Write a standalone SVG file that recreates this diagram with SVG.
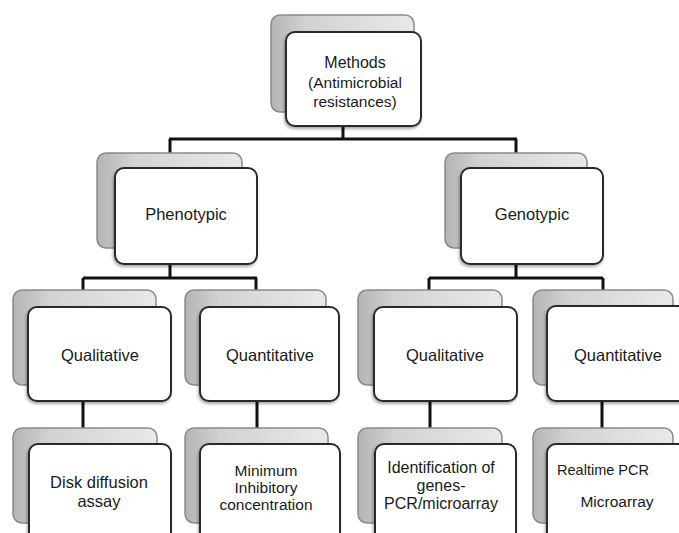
<svg xmlns="http://www.w3.org/2000/svg" width="679" height="533" viewBox="0 0 679 533">
<defs>
<linearGradient id="g" x1="0" y1="0" x2="1" y2="0">
<stop offset="0" stop-color="#b4b4b4"/>
<stop offset="0.25" stop-color="#d2d2d2"/>
<stop offset="1" stop-color="#e9e9e9"/>
</linearGradient>
<filter id="sh" x="-10%" y="-10%" width="125%" height="125%">
<feGaussianBlur in="SourceAlpha" stdDeviation="1.5"/>
<feOffset dx="-1" dy="2"/>
<feComponentTransfer><feFuncA type="linear" slope="0.35"/></feComponentTransfer>
<feMerge><feMergeNode/><feMergeNode in="SourceGraphic"/></feMerge>
</filter>
</defs>
<style>
.back{fill:url(#g);stroke:#8a8a8a;stroke-width:1.5}
.front{fill:#fff;stroke:#2a2a2a;stroke-width:2;filter:url(#sh)}
.t{font-family:"Liberation Sans",Arial,sans-serif;fill:#1a1a1a;text-anchor:middle}
.c{fill:none;stroke:#111;stroke-width:3}
</style>
<rect width="679" height="533" fill="#fff"/>
<g id="connectors">
<path class="c" d="M343 126V139M169 139H517M170 139V153M516 139V153"/>
<path class="c" d="M170 264V278M83 278H257M83 278V290M256 278V290"/>
<path class="c" d="M516 264V278M429 278H603M429 278V290M603 278V290"/>
<path class="c" d="M83 401V428M257 401V428M430 401V428M602 401V428"/>
</g>
<g id="methods">
<rect class="back" x="271" y="15" width="143" height="97" rx="9"/>
<rect class="front" x="286" y="32" width="135" height="94" rx="9"/>
<text class="t" font-size="16" x="355" y="68">Methods</text>
<text class="t" font-size="15.5" x="355" y="88">(Antimicrobial</text>
<text class="t" font-size="15.5" x="355" y="107">resistances)</text>
</g>
<g id="phenotypic">
<rect class="back" x="97" y="153" width="145" height="95" rx="9"/>
<rect class="front" x="115" y="168" width="142" height="96" rx="9"/>
<text class="t" font-size="16.5" x="186" y="220">Phenotypic</text>
</g>
<g id="genotypic">
<rect class="back" x="445" y="153" width="142" height="95" rx="9"/>
<rect class="front" x="461" y="168" width="142" height="96" rx="9"/>
<text class="t" font-size="16.5" x="532" y="220">Genotypic</text>
</g>
<g id="pheno-qualitative">
<rect class="back" x="13" y="290" width="143" height="95" rx="9"/>
<rect class="front" x="28" y="307" width="143" height="94" rx="9"/>
<text class="t" font-size="16.5" x="100" y="361">Qualitative</text>
</g>
<g id="pheno-quantitative">
<rect class="back" x="185" y="290" width="141" height="95" rx="9"/>
<rect class="front" x="200" y="307" width="139" height="94" rx="9"/>
<text class="t" font-size="16.5" x="270" y="361">Quantitative</text>
</g>
<g id="geno-qualitative">
<rect class="back" x="358" y="290" width="144" height="95" rx="9"/>
<rect class="front" x="374" y="307" width="143" height="94" rx="9"/>
<text class="t" font-size="16.5" x="445" y="361">Qualitative</text>
</g>
<g id="geno-quantitative">
<rect class="back" x="533" y="290" width="140" height="95" rx="9"/>
<rect class="front" x="547" y="306" width="142" height="95" rx="9"/>
<text class="t" font-size="16.5" x="618" y="361">Quantitative</text>
</g>
<g id="disk">
<rect class="back" x="13" y="428" width="144" height="95" rx="9"/>
<rect class="front" x="29" y="444" width="142" height="100" rx="9"/>
<text class="t" font-size="16.5" x="99" y="488">Disk diffusion</text>
<text class="t" font-size="16.5" x="99" y="507">assay</text>
</g>
<g id="mic">
<rect class="back" x="185" y="428" width="143" height="95" rx="9"/>
<rect class="front" x="200" y="444" width="140" height="100" rx="9"/>
<text class="t" font-size="15.5" x="266" y="476">Minimum</text>
<text class="t" font-size="15.5" x="266" y="493">Inhibitory</text>
<text class="t" font-size="15.5" x="266" y="510">concentration</text>
</g>
<g id="identification">
<rect class="back" x="358" y="428" width="144" height="95" rx="9"/>
<rect class="front" x="375" y="444" width="141" height="100" rx="9"/>
<text class="t" font-size="16" x="441" y="473">Identification of</text>
<text class="t" font-size="16" x="441" y="491">genes-</text>
<text class="t" font-size="16" x="441" y="509">PCR/microarray</text>
</g>
<g id="realtime">
<rect class="back" x="533" y="428" width="140" height="95" rx="9"/>
<rect class="front" x="547" y="444" width="142" height="100" rx="9"/>
<text class="t" font-size="14.5" x="603" y="475">Realtime PCR</text>
<text class="t" font-size="15.5" x="617" y="507">Microarray</text>
</g>
</svg>
